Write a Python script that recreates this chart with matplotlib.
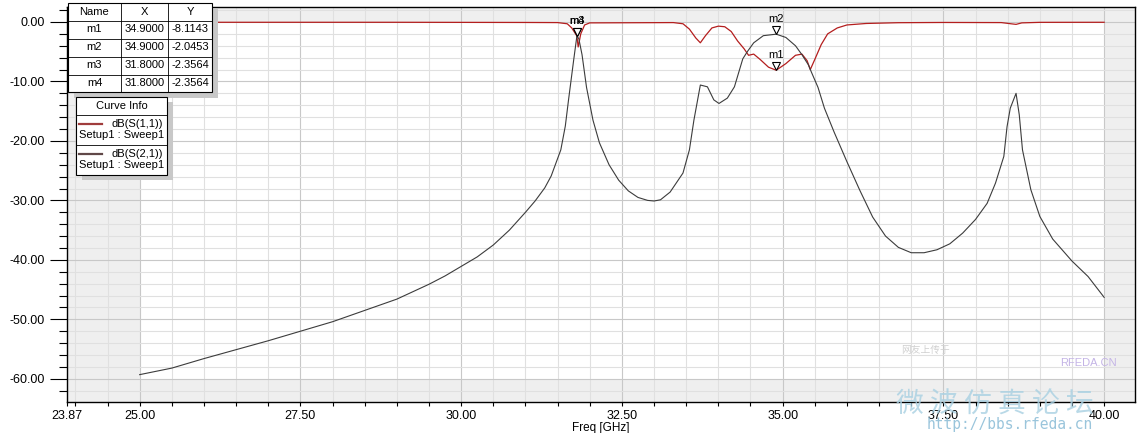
import numpy as np
import matplotlib.pyplot as plt
from matplotlib.patches import Rectangle
from matplotlib.lines import Line2D
from matplotlib.transforms import Affine2D, offset_copy

plt.rcParams['font.family'] = ['Liberation Sans', 'DejaVu Sans']

# dB(S(1,1))
f_s11 = [25.0, 27.0, 29.0, 31.0, 31.5, 31.65, 31.72, 31.8, 31.82, 31.86, 31.92, 32.0,
         33.3, 33.45, 33.55, 33.65, 33.72, 33.8, 33.9, 34.0, 34.1, 34.2, 34.3, 34.4,
         34.47, 34.55, 34.65, 34.78, 34.9, 35.05, 35.2, 35.3, 35.38, 35.43, 35.5, 35.6,
         35.7, 35.85, 36.0, 36.3, 36.8, 37.5, 38.4, 38.55, 38.63, 38.72, 39.0, 40.0]
db_s11 = [-0.05, -0.05, -0.05, -0.08, -0.1, -0.3, -1.0, -2.36, -4.2, -2.0, -0.5, -0.15,
          -0.1, -0.3, -1.2, -2.7, -3.5, -2.3, -1.0, -0.7, -0.8, -1.6, -3.2, -4.5,
          -5.6, -5.4, -6.3, -7.6, -8.11, -7.0, -5.6, -5.4, -6.5, -8.0, -6.3, -3.8,
          -2.0, -1.0, -0.5, -0.25, -0.12, -0.08, -0.1, -0.3, -0.4, -0.15, -0.06, -0.05]

# dB(S(2,1))
f_s21 = [25.0, 25.5, 26.0, 26.5, 27.0, 27.5, 28.0, 28.5, 29.0, 29.5, 29.75, 30.0,
         30.25, 30.5, 30.75, 31.0, 31.15, 31.3, 31.4, 31.55, 31.62, 31.67, 31.75, 31.8,
         31.83, 31.88, 31.95, 32.05, 32.15, 32.3, 32.45, 32.6, 32.75, 32.9, 33.0, 33.1,
         33.25, 33.45, 33.55, 33.62, 33.72, 33.83, 33.93, 34.01, 34.14, 34.25, 34.38,
         34.45, 34.55, 34.7, 34.9, 35.05, 35.2, 35.3, 35.4, 35.45, 35.55, 35.65, 35.8,
         36.0, 36.2, 36.4, 36.6, 36.8, 37.0, 37.2, 37.4, 37.6, 37.8, 38.0, 38.18, 38.31,
         38.44, 38.49, 38.54, 38.63, 38.68, 38.73, 38.86, 39.0, 39.2, 39.5, 39.75, 40.0]
db_s21 = [-59.3, -58.2, -56.6, -55.1, -53.6, -52.0, -50.4, -48.5, -46.6, -44.1, -42.7, -41.1,
          -39.5, -37.5, -35.0, -32.0, -30.1, -27.9, -25.9, -21.5, -17.5, -13.1, -6.4, -2.36,
          -2.8, -5.5, -11.0, -16.5, -20.3, -24.0, -26.6, -28.4, -29.5, -30.0, -30.1, -29.9,
          -28.6, -25.4, -21.5, -16.5, -10.6, -10.9, -13.1, -13.7, -12.8, -10.9, -6.2,
          -5.0, -3.5, -2.3, -2.05, -2.6, -4.0, -5.5, -7.2, -8.5, -11.0, -14.5, -18.5,
          -23.5, -28.3, -32.8, -36.0, -37.9, -38.8, -38.8, -38.3, -37.3, -35.5, -33.2, -30.5,
          -27.1, -22.6, -17.6, -14.5, -12.0, -15.6, -21.5, -28.2, -32.7, -36.5, -40.2, -42.8,
          -46.3]

marker_names = ['m1', 'm2', 'm4', 'm3']
marker_x = [34.9, 34.9, 31.8, 31.8]
marker_y = [-8.1143, -2.0453, -2.3564, -2.3564]

table_names = ['m1', 'm2', 'm3', 'm4']
table_x = ['34.9000', '34.9000', '31.8000', '31.8000']
table_y = ['-8.1143', '-2.0453', '-2.3564', '-2.3564']

red = '#b41e1e'
dark = '#3c3c3c'

W, H = 1141, 433
fig = plt.figure(figsize=(W / 100, H / 100), dpi=100)
ax = fig.add_axes([67 / W, 1 - 402 / H, (1135 - 67) / W, (402 - 7) / H])
ax.set_xlim(23.87, 40.48)
ax.set_ylim(-63.9, 2.52)

# shaded area outside the sweep
shade = '#efefef'
ax.axvspan(23.87, 25, color=shade, zorder=0, lw=0)
ax.axvspan(40, 40.48, color=shade, zorder=0, lw=0)
ax.axhspan(0, 2.52, color=shade, zorder=0, lw=0)
ax.axhspan(-63.9, -60, color=shade, zorder=0, lw=0)

ax.set_xticks([23.87, 25, 27.5, 30, 32.5, 35, 37.5, 40])
ax.set_xticklabels(['23.87', '25.00', '27.50', '30.00', '32.50', '35.00', '37.50', '40.00'])
ax.set_xticks(np.arange(24, 40.01, 0.5), minor=True)
ax.set_yticks(np.arange(-60, 0.1, 10))
ax.set_yticklabels(['%.2f' % v for v in np.arange(-60, 0.1, 10)])
ax.set_yticks(np.arange(-62, 2.1, 2), minor=True)

ax.grid(which='major', color='#c8c8c8', lw=0.8, zorder=1)
ax.grid(which='minor', color='#e0e0e0', lw=0.8, zorder=1)
ax.set_axisbelow(True)
ax.tick_params(axis='y', which='major', length=12, width=0.8, labelsize=9, pad=4)
ax.tick_params(axis='y', which='minor', length=6, width=0.8)
ax.tick_params(axis='x', which='both', length=3, width=0.8, labelsize=9, pad=3)
for s in ax.spines.values():
    s.set_linewidth(1.0)
ax.set_xlabel('Freq [GHz]', fontsize=8.5, labelpad=0)

ax.plot(f_s11, db_s11, color=red, lw=0.9, zorder=3)
ax.plot(f_s21, db_s21, color=dark, lw=0.8, zorder=3)

# markers
tri = offset_copy(ax.transData, fig=fig, x=0, y=4, units='dots')
lab = offset_copy(ax.transData, fig=fig, x=0, y=15, units='dots')
for n, x, y in zip(marker_names, marker_x, marker_y):
    ax.plot(x, y, marker='v', ms=6, mfc='white', mec='black', mew=0.8,
            transform=tri, zorder=5)
    ax.text(x, y, n, transform=lab, ha='center', va='center', fontsize=8, zorder=6)

# pixel coordinate transform (y down)
pix = Affine2D().scale(1 / W, -1 / H).translate(0, 1) + fig.transFigure

def box(x0, y0, x1, y1, fc='white', ec='black', lw=0.8, z=10):
    fig.add_artist(Rectangle((x0, y0), x1 - x0, y1 - y0, transform=pix,
                             fc=fc, ec=ec, lw=lw, zorder=z))

def txt(x, y, s, ha='center', size=8, **kw):
    fig.text(x, y, s, transform=pix, ha=ha, va='center', fontsize=size, zorder=12, **kw)

# marker table
cols = [68, 121, 168, 212]
rows = [3, 20.5, 38.5, 56.5, 74.5, 92]
box(cols[0] + 6, rows[0] + 6, cols[-1] + 6, rows[-1] + 6, fc='#c8c8c8', ec='none', z=9)
box(cols[0], rows[0], cols[-1], rows[-1], z=10)
for c in cols[1:-1]:
    fig.add_artist(Line2D([c, c], [rows[0], rows[-1]], transform=pix, color='black', lw=0.6, zorder=11))
for r in rows[1:-1]:
    fig.add_artist(Line2D([cols[0], cols[-1]], [r, r], transform=pix, color='black', lw=0.6, zorder=11))
header = ['Name', 'X', 'Y']
for i, h in enumerate(header):
    txt((cols[i] + cols[i + 1]) / 2, (rows[0] + rows[1]) / 2, h)
for j in range(4):
    yc = (rows[j + 1] + rows[j + 2]) / 2
    txt((cols[0] + cols[1]) / 2, yc, table_names[j])
    txt((cols[1] + cols[2]) / 2, yc, table_x[j])
    txt((cols[2] + cols[3]) / 2, yc, table_y[j])

# curve info box
box(82, 102, 173, 180, fc='#c8c8c8', ec='none', z=9)
box(76, 96.5, 167, 174.5, z=10)
for r in [115, 144.5]:
    fig.add_artist(Line2D([76, 167], [r, r], transform=pix, color='black', lw=0.6, zorder=11))
txt(121.5, 106, 'Curve Info')
fig.add_artist(Line2D([79, 102], [124, 124], transform=pix, color='#a03c3c', lw=1.6, zorder=11))
txt(163, 124, 'dB(S(1,1))', ha='right')
txt(121.5, 135.5, 'Setup1 : Sweep1')
fig.add_artist(Line2D([79, 102], [154, 154], transform=pix, color='#604848', lw=1.6, zorder=11))
txt(163, 154, 'dB(S(2,1))', ha='right')
txt(121.5, 165.5, 'Setup1 : Sweep1')

# watermark
txt(995, 405, '微 波 仿 真 论 坛', size=20, color='#a8d0e2', alpha=0.8,
    family=['Noto Sans CJK SC', 'DejaVu Sans'])
txt(1010, 424, 'http://bbs.rfeda.cn', size=10.5, color='#8fbfd8', alpha=0.9,
    family=['DejaVu Sans Mono'])
txt(1088, 363, 'RFEDA.CN', size=8, color='#c4b4e6')
txt(925, 350, '网友上传于', size=7, color='#d0d0d0',
    family=['Noto Sans CJK SC', 'DejaVu Sans'])

fig.savefig('out.png', dpi=100)
